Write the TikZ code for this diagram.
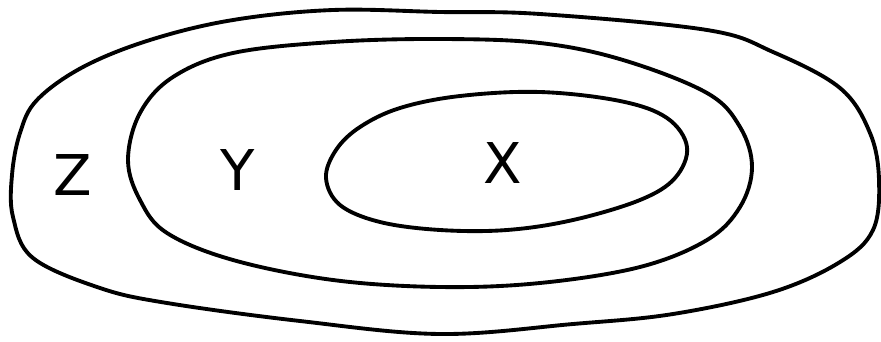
\documentclass[tikz,border=0pt]{standalone}
\usepackage{fontspec}
\setsansfont{DejaVu Sans}
\begin{document}
\begin{tikzpicture}[
    x=0.02cm, y=-0.02cm,
    zone/.style  ={draw, line width=2.2pt, line join=round},
    letter/.style={font=\sffamily\fontsize{32}{32}\selectfont}
]
\useasboundingbox (0,0) rectangle (881,341);

% Outer region Z
\draw[zone] plot[smooth cycle, tension=0.6] coordinates {
    (12,175) (20,133) (37,100) (83,67) (150,40) (233,20) (333,10) (440,12)
    (540,14) (707,30) (773,52) (840,88) (870,133) (879,180) (873,230)
    (840,262) (773,292) (673,314) (573,324) (440,334) (300,321) (167,303)
    (100,288) (33,258) (13,217)};

% Middle region Y
\draw[zone] plot[smooth cycle, tension=0.6] coordinates {
    (128,160) (140,113) (173,77) (233,53) (333,42) (440,39) (540,43)
    (623,60) (707,93) (740,127) (752,167) (740,207) (707,240) (640,267)
    (540,283) (440,287) (333,280) (233,260) (167,233) (140,200)};

% Inner region X
\draw[zone] plot[smooth cycle, tension=0.6] coordinates {
    (326,178) (336,150) (360,127) (400,108) (460,96) (540,92) (620,101)
    (667,118) (687,147) (675,178) (640,200) (573,220) (507,230) (440,230)
    (380,222) (340,205)};

% Labels
\node[letter] (z) at (73,175)  {Z};
\node[letter] (y) at (238,170) {Y};
\node[letter] (x) at (503,163) {X};

\end{tikzpicture}
\end{document}
